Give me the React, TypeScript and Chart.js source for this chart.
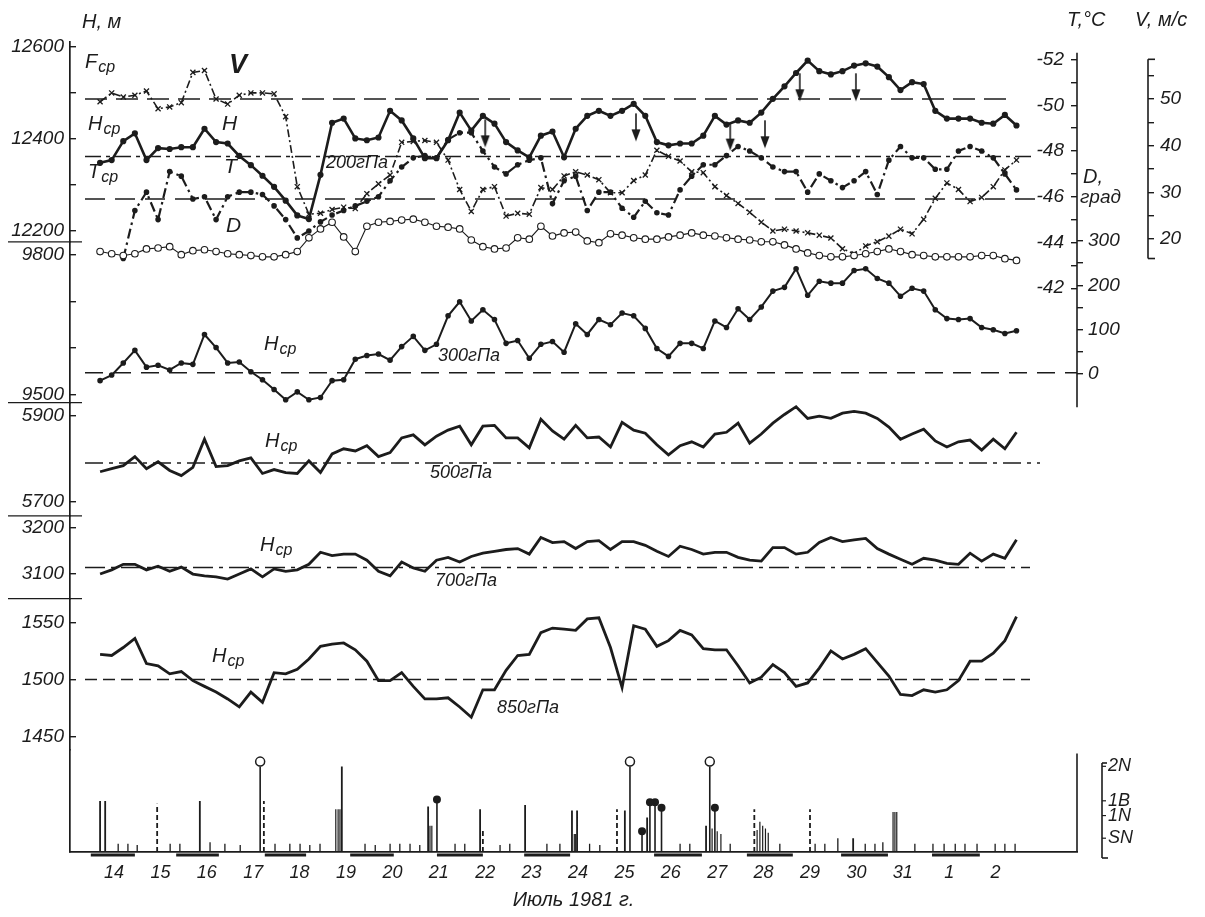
import React, { useEffect, useRef } from "react";
import { Chart, registerables } from "chart.js";

Chart.register(...registerables);

const INK = "#1c1c1c";
const FONT = "'Liberation Sans', 'DejaVu Sans', Arial, sans-serif";

// ---------------- time axis ----------------
const dayValues = [14, 15, 16, 17, 18, 19, 20, 21, 22, 23, 24, 25, 26, 27, 28, 29, 30, 31, 32, 33];
const dayLabels = ["14", "15", "16", "17", "18", "19", "20", "21", "22", "23", "24", "25", "26", "27", "28", "29", "30", "31", "1", "2"];
const firstObs = 13.7; // day of first 6-hourly observation
const obsStep = 0.25;
const times = Array.from({ length: 80 }, (_, k) => firstObs + k * obsStep);

// ---------------- 200 hPa ----------------
const h200 = [
  12348, 12354, 12395, 12412, 12354, 12380, 12378, 12382, 12382, 12422,
  12393, 12390, 12363, 12343, 12320, 12296, 12266, 12234, 12226, 12322,
  12435, 12444, 12401, 12397, 12403, 12461, 12440, 12401, 12358, 12358,
  12397, 12457, 12418, 12450, 12433, 12393, 12375, 12360, 12407, 12416,
  12360, 12422, 12450, 12461, 12450, 12461, 12476, 12450, 12393, 12386,
  12390, 12390, 12407, 12450, 12431, 12440, 12435, 12457, 12487, 12514,
  12543, 12570, 12547, 12540, 12547, 12559, 12564, 12557, 12534, 12506,
  12523, 12519, 12461, 12444, 12444, 12444, 12435, 12433, 12452, 12429,
];
const wind200 = [
  49.4, 51.3, 50.4, 50.8, 51.7, 47.9, 48.3, 49.2, 55.7, 56.1,
  50.0, 48.9, 50.8, 51.3, 51.3, 51.1, 46.2, 31.2, 25.3, 25.5,
  26.3, 26.8, 26.5, 29.7, 31.8, 33.7, 40.7, 40.9, 41.1, 40.7,
  36.9, 30.6, 25.9, 30.6, 31.2, 24.9, 25.5, 25.3, 31.0, 30.6,
  33.5, 34.4, 33.7, 32.7, 29.9, 29.9, 32.5, 33.7, 39.0, 37.7,
  36.7, 34.4, 34.2, 31.2, 29.3, 27.6, 25.7, 23.6, 21.7, 22.1,
  21.7, 21.3, 20.8, 20.2, 17.9, 16.8, 18.5, 19.4, 20.6, 22.1,
  21.1, 24.2, 28.7, 32.0, 30.6, 28.0, 28.9, 31.2, 34.8, 36.9,
];
const temp200 = [
  null, null, -43.3, -45.4, -46.2, -45.0, -47.1, -46.9, -45.9, -46.0,
  -45.0, -46.0, -46.2, -46.2, -46.1, -45.6, -45.0, -44.2, -44.5, -44.9,
  -45.2, -45.4, -45.6, -45.8, -46.0, -46.7, -47.3, -47.7, -47.8, -47.7,
  -48.5, -48.8, -48.8, -48.0, -47.3, -47.0, -47.4, -47.6, -47.7, -45.7,
  -46.7, -46.9, -45.4, -46.2, -46.2, -45.5, -45.1, -45.8, -45.3, -45.2,
  -46.3, -46.9, -47.4, -47.4, -47.8, -48.2, -48.0, -47.7, -47.3, -47.1,
  -47.1, -46.2, -47.0, -46.7, -46.4, -46.7, -47.1, -46.1, -47.6, -48.2,
  -47.7, -47.7, -47.2, -47.2, -48.0, -48.2, -48.0, -47.7, -47.0, -46.3,
];
const dir200 = [
  276, 271, 267, 271, 282, 284, 287, 269, 278, 280,
  276, 271, 269, 267, 264, 264, 269, 276, 307, 327,
  342, 309, 276, 333, 342, 344, 347, 349, 342, 333,
  331, 327, 302, 287, 282, 284, 307, 304, 333, 311,
  318, 320, 300, 296, 316, 313, 307, 304, 304, 309,
  313, 318, 313, 311, 307, 304, 302, 298, 298, 291,
  282, 273, 267, 264, 264, 267, 271, 276, 282, 276,
  269, 267, 264, 264, 264, 264, 267, 267, 260, 256,
];

// ---------------- lower levels ----------------
const h300 = [
  9530, 9542, 9568, 9595, 9559, 9563, 9553, 9568, 9565, 9629,
  9601, 9568, 9570, 9549, 9532, 9511, 9489, 9506, 9489, 9494,
  9530, 9532, 9576, 9584, 9587, 9574, 9603, 9625, 9595, 9608,
  9669, 9699, 9658, 9682, 9661, 9610, 9616, 9578, 9608, 9614,
  9591, 9652, 9629, 9661, 9650, 9675, 9669, 9642, 9599, 9582,
  9610, 9610, 9599, 9658, 9644, 9684, 9661, 9688, 9722, 9730,
  9770, 9713, 9743, 9739, 9739, 9766, 9770, 9749, 9739, 9711,
  9728, 9722, 9682, 9663, 9661, 9663, 9644, 9639, 9631, 9637,
];
const h500 = [
  5770, 5777, 5784, 5805, 5777, 5793, 5773, 5761, 5780, 5845,
  5782, 5784, 5795, 5802, 5766, 5775, 5768, 5766, 5795, 5768,
  5811, 5823, 5818, 5830, 5805, 5814, 5848, 5855, 5832, 5852,
  5866, 5875, 5832, 5875, 5877, 5848, 5848, 5825, 5891, 5864,
  5845, 5877, 5848, 5850, 5827, 5884, 5866, 5859, 5832, 5809,
  5830, 5839, 5827, 5857, 5861, 5882, 5836, 5857, 5882, 5902,
  5920, 5893, 5898, 5893, 5905, 5909, 5905, 5893, 5873, 5845,
  5857, 5868, 5841, 5827, 5839, 5843, 5820, 5845, 5823, 5861,
];
const h700 = [
  3100, 3109, 3121, 3121, 3109, 3117, 3106, 3115, 3100, 3096,
  3094, 3089, 3100, 3111, 3094, 3111, 3106, 3109, 3121, 3147,
  3140, 3143, 3143, 3130, 3106, 3096, 3126, 3113, 3106, 3130,
  3136, 3126, 3138, 3145, 3149, 3153, 3155, 3143, 3179, 3168,
  3170, 3155, 3170, 3172, 3153, 3170, 3170, 3162, 3149, 3138,
  3160, 3153, 3143, 3147, 3147, 3136, 3130, 3128, 3157, 3157,
  3143, 3147, 3168, 3179, 3170, 3174, 3177, 3155, 3143, 3132,
  3121, 3134, 3130, 3123, 3121, 3145, 3128, 3143, 3134, 3174,
];
const h850 = [
  1522, 1521, 1528, 1536, 1514, 1512, 1505, 1507, 1499, 1494,
  1489, 1483, 1476, 1489, 1480, 1506, 1505, 1509, 1518, 1529,
  1531, 1532, 1526, 1516, 1499, 1499, 1506, 1494, 1483, 1483,
  1484, 1476, 1467, 1491, 1491, 1508, 1521, 1522, 1541, 1545,
  1544, 1543, 1553, 1554, 1528, 1493, 1547, 1544, 1529, 1534,
  1543, 1539, 1527, 1526, 1526, 1512, 1497, 1502, 1513, 1506,
  1494, 1497, 1510, 1525, 1518, 1522, 1527, 1515, 1503, 1487,
  1486, 1491, 1489, 1491, 1499, 1516, 1516, 1523, 1534, 1555,
];

// mean values (dashed reference lines)
const meanWind200 = 50;
const meanH200 = 12362;
const meanTemp200 = -45.9;
const meanH300 = 9547;
const meanH500 = 5790;
const meanH700 = 3114;
const meanH850 = 1500;

// arrows on the 200 hPa height curve
const arrowTimes = [22.0, 25.25, 27.28, 28.03, 28.78, 29.99];
const arrowH = [12412, 12425, 12405, 12410, 12512, 12512];

// ---------------- flares ----------------
const flareClassLevels = [1, 2.64, 3.71, 6.21];
const flareClassLabels = ["SN", "1N", "1B", "2N"];
const flareSolidTimes = [13.70, 13.81, 15.85, 18.91, 20.77, 21.89, 22.86, 23.87, 23.98, 25.01, 25.49, 26.76, 29.93];
const flareSolidLevels = [3.7, 3.7, 3.7, 6.2, 3.3, 3.1, 3.4, 3.0, 3.0, 3.0, 2.5, 1.9, 1.0];
const flareHatchTimes = [18.78, 18.83, 18.87, 20.81, 20.85, 23.92, 23.95, 26.89, 27.0, 27.08, 27.86, 27.92, 27.98, 28.04, 28.1, 30.79, 30.83, 30.87];
const flareHatchLevels = [3.1, 3.1, 3.1, 1.9, 1.9, 1.3, 1.3, 1.7, 1.5, 1.3, 1.6, 2.2, 1.9, 1.7, 1.4, 2.9, 2.9, 2.9];
const flareDashTimes = [14.93, 17.23, 21.95, 24.84, 27.8, 29.0];
const flareDashLevels = [3.5, 3.7, 1.7, 3.1, 3.1, 3.1];
const flareOpenTimes = [17.15, 25.12, 26.84];
const flareOpenLevels = [6.2, 6.2, 6.2];
const flareDotTimes = [20.96, 25.38, 25.55, 25.66, 25.8, 26.95];
const flareDotLevels = [3.7, 1.4, 3.5, 3.5, 3.1, 3.1];
const subflareTimes = [14.09, 14.30, 14.50, 15.21, 15.42, 16.07, 16.39, 16.72, 17.47, 17.79, 18.01, 18.22, 18.44, 19.41, 19.63, 19.95, 20.16, 20.38, 20.59, 21.35, 21.56, 22.32, 22.53, 23.33, 23.61, 24.25, 24.47, 26.20, 26.41, 27.28, 28.35, 29.11, 29.32, 29.60, 30.19, 30.40, 30.57, 31.26, 31.65, 31.89, 32.13, 32.34, 32.60, 32.99, 33.20, 33.42];
const subflareLevels = [0.6, 0.6, 0.5, 0.6, 0.6, 0.7, 0.6, 0.5, 0.6, 0.6, 0.6, 0.5, 0.6, 0.6, 0.5, 0.6, 0.6, 0.6, 0.5, 0.6, 0.6, 0.5, 0.6, 0.6, 0.6, 0.6, 0.5, 0.6, 0.6, 0.6, 0.6, 0.6, 0.6, 1.0, 0.6, 0.6, 0.7, 0.6, 0.6, 0.6, 0.6, 0.6, 0.6, 0.6, 0.6, 0.6];
const patrolStart = [13.50, 15.34, 17.25, 19.09, 20.96, 22.84, 25.64, 27.64, 29.67, 31.63];
const patrolEnd = [14.45, 16.26, 18.14, 20.03, 21.95, 23.83, 26.67, 28.63, 30.68, 32.66];

// ---------------- layout (pixels) ----------------
const AREA = { top: 30, bottom: 852, left: 70, right: 1077 };
const LEFT_BOUNDS = [30, 233, 396, 511, 595, 748, 852];
const DAY_PX = 46.4;
const DAY14_PX = 114;
const tAt = (px: number) => 14 + (px - DAY14_PX) / DAY_PX;

function fitRange(v1: number, p1: number, v2: number, p2: number, top: number, bottom: number) {
  const k = (v2 - v1) / (p2 - p1);
  const atTop = v1 + (top - p1) * k;
  const atBottom = v1 + (bottom - p1) * k;
  return atTop > atBottom
    ? { min: atBottom, max: atTop, reverse: false }
    : { min: atTop, max: atBottom, reverse: true };
}

const tickFont = { family: FONT, size: 19, style: "italic" as const };

function leftScale(idx: number, range: any, tickVals: number[], labelVals: number[]) {
  return {
    type: "linear",
    position: "left",
    stack: "left",
    stackWeight: LEFT_BOUNDS[idx + 1] - LEFT_BOUNDS[idx],
    weight: 100 - idx * 10,
    ...range,
    afterFit: (s: any) => { s.width = AREA.left; },
    afterBuildTicks: (s: any) => { s.ticks = tickVals.map((v) => ({ value: v })); },
    ticks: {
      autoSkip: false,
      padding: 12,
      color: INK,
      font: tickFont,
      display: tickVals.length > 0,
      callback: (v: number) => (labelVals.includes(v) ? String(v) : ""),
    },
    grid: { drawOnChartArea: false, drawTicks: tickVals.length > 0, tickLength: -6, color: INK, lineWidth: 1.4 },
    border: { display: true, color: INK, width: 1.7 },
  };
}

function rightScale(weight: number, range: any, width: number, tickVals: number[], labelFn: (v: number, i: number) => string, extra: any = {}) {
  return {
    type: "linear",
    position: "right",
    weight,
    ...range,
    afterFit: (s: any) => { s.width = width; },
    afterBuildTicks: (s: any) => { s.ticks = tickVals.map((v) => ({ value: v })); },
    ticks: { autoSkip: false, padding: 6, color: INK, font: tickFont, callback: labelFn, ...(extra.ticks || {}) },
    grid: { drawOnChartArea: false, drawTicks: true, tickLength: 6, color: INK, lineWidth: 1.4, ...(extra.grid || {}) },
    border: { display: false },
    ...(extra.scale || {}),
  };
}

const pts = (vals: (number | null)[]) => vals.map((v, k) => ({ x: times[k], y: v }));
const stems = (ts: number[], ls: number[]) => {
  const out: any[] = [];
  ts.forEach((t, i) => { out.push({ x: t, y: 0 }, { x: t, y: ls[i] }, { x: t, y: null }); });
  return out;
};

function makeArrow() {
  const c = document.createElement("canvas");
  c.width = 12; c.height = 30;
  const g = c.getContext("2d")!;
  g.strokeStyle = INK; g.fillStyle = INK; g.lineWidth = 1.6;
  g.beginPath(); g.moveTo(6, 1); g.lineTo(6, 21); g.stroke();
  g.beginPath(); g.moveTo(1.5, 17); g.lineTo(6, 29); g.lineTo(10.5, 17); g.closePath(); g.fill();
  return c;
}

type Note = { text: string; x: number; y: number; size?: number; sub?: string; bold?: boolean };
const notes: Note[] = [
  { text: "H, м", x: 82, y: 22, size: 20 },
  { text: "F", sub: "ср", x: 85, y: 62 },
  { text: "H", sub: "ср", x: 88, y: 124 },
  { text: "T", sub: "ср", x: 88, y: 172 },
  { text: "V", x: 229, y: 66, size: 27, bold: true },
  { text: "H", x: 222, y: 124, size: 21 },
  { text: "T", x: 224, y: 167, size: 21 },
  { text: "D", x: 226, y: 226, size: 21 },
  { text: "200гПа", x: 326, y: 163, size: 18 },
  { text: "H", sub: "ср", x: 264, y: 344 },
  { text: "300гПа", x: 438, y: 356, size: 18 },
  { text: "H", sub: "ср", x: 265, y: 441 },
  { text: "500гПа", x: 430, y: 473, size: 18 },
  { text: "H", sub: "ср", x: 260, y: 545 },
  { text: "700гПа", x: 435, y: 581, size: 18 },
  { text: "H", sub: "ср", x: 212, y: 656 },
  { text: "850гПа", x: 497, y: 708, size: 18 },
  { text: "T,°C", x: 1067, y: 20, size: 20 },
  { text: "V, м/с", x: 1135, y: 20, size: 20 },
  { text: "D,", x: 1083, y: 177, size: 20 },
  { text: "град", x: 1080, y: 198, size: 19 },
];

const decorPlugin = {
  id: "decor",
  afterDraw(chart: any) {
    const { ctx, chartArea: ca, scales: s } = chart;
    ctx.save();
    ctx.strokeStyle = INK;
    ctx.fillStyle = INK;
    const seg = (x1: number, y1: number, x2: number, y2: number, w = 1.6) => {
      ctx.lineWidth = w; ctx.beginPath(); ctx.moveTo(x1, y1); ctx.lineTo(x2, y2); ctx.stroke();
    };
    // common T / D axis line
    seg(ca.right, s.yT.getPixelForValue(-52.3), ca.right, s.yD.getPixelForValue(-75));
    // right edge of the flare panel
    seg(ca.right, s.yFlare.top + 4, ca.right, ca.bottom);
    // V bracket
    const xv = s.yV.left;
    const vt = s.yV.getPixelForValue(58.5), vb = s.yV.getPixelForValue(15.8);
    seg(xv, vt, xv, vb); seg(xv, vt, xv + 7, vt); seg(xv, vb, xv + 7, vb);
    // flare class bracket
    const xf = ca.right + 25;
    const ft = s.yFlareR.getPixelForValue(6.45), fb = ca.bottom + 6;
    seg(xf, ft, xf, fb); seg(xf, ft, xf + 5, ft); seg(xf, fb, xf + 6, fb);
    flareClassLevels.forEach((l) => { const y = s.yFlareR.getPixelForValue(l); seg(xf, y, xf + 4, y, 1.2); });
    // separators between left-axis panels
    [s.y200.bottom, s.y300.bottom, s.y500.bottom, s.y700.bottom].forEach((y: number) => seg(8, y, ca.left + 12, y, 1.3));
    // texts
    ctx.textBaseline = "middle";
    ctx.textAlign = "left";
    for (const n of notes) {
      const size = n.size || 20;
      ctx.font = `${n.bold ? "bold " : ""}italic ${size}px ${FONT}`;
      ctx.fillText(n.text, n.x, n.y);
      if (n.sub) {
        const w = ctx.measureText(n.text).width;
        ctx.font = `italic ${Math.round(size * 0.78)}px ${FONT}`;
        ctx.fillText(n.sub, n.x + w + 1, n.y + size * 0.28);
      }
    }
    ctx.restore();
  },
};

export default function App() {
  const ref = useRef<HTMLCanvasElement>(null);

  useEffect(() => {
    const arrowImg = makeArrow();
    const xr = { min: tAt(AREA.left), max: tAt(AREA.right) };
    const tStart = tAt(85);

    const line = (label: string, yAxisID: string, data: any[], o: any = {}) => ({
      type: "line", label, yAxisID, xAxisID: "x", data,
      borderColor: INK, backgroundColor: INK, borderWidth: 2, tension: 0,
      pointRadius: 0, pointBackgroundColor: INK, pointBorderColor: INK,
      spanGaps: false, clip: false, ...o,
    });
    const mean = (label: string, yAxisID: string, v: number, tEnd: number, dash: number[]) =>
      line(label, yAxisID, [{ x: tStart, y: v }, { x: tEnd, y: v }], { borderWidth: 1.5, borderDash: dash });

    const datasets: any[] = [
      mean("V mean", "yV", meanWind200, tAt(1015), [22, 9]),
      mean("H200 mean", "y200", meanH200, tAt(1035), [16, 5, 4, 5]),
      mean("T mean", "yT", meanTemp200, tAt(1035), [20, 10]),
      mean("H300 mean", "y300", meanH300, tAt(AREA.right), [18, 10]),
      mean("H500 mean", "y500", meanH500, tAt(1040), [18, 6, 4, 6]),
      mean("H700 mean", "y700", meanH700, tAt(1030), [20, 6, 4, 6]),
      mean("H850 mean", "y850", meanH850, tAt(1030), [12, 6]),
      line("D", "yD", pts(dir200), {
        borderWidth: 1.1, pointRadius: 3.3, pointBackgroundColor: "#ffffff", pointBorderWidth: 1.1,
      }),
      line("V", "yV", pts(wind200), {
        borderWidth: 1.6, borderDash: [8, 3, 2, 3], pointStyle: "crossRot", pointRadius: 3.6, pointBorderWidth: 1.3,
      }),
      line("T", "yT", pts(temp200), {
        borderWidth: 2.2, borderDash: [10, 4, 2.5, 4], pointRadius: 1.7,
      }),
      line("H200", "y200", pts(h200), { borderWidth: 2.6, pointRadius: 1.8 }),
      line("arrows", "y200", arrowTimes.map((t, i) => ({ x: t, y: arrowH[i] })), {
        showLine: false, pointStyle: arrowImg, pointRadius: 6,
      }),
      line("H300", "y300", pts(h300), { borderWidth: 2, pointRadius: 1.8 }),
      line("H500", "y500", pts(h500), { borderWidth: 2.8 }),
      line("H700", "y700", pts(h700), { borderWidth: 2.8 }),
      line("H850", "y850", pts(h850), { borderWidth: 2.8 }),
      line("flares", "yFlare", stems(flareSolidTimes, flareSolidLevels), { borderWidth: 1.8 }),
      line("flares hatched", "yFlare", stems(flareHatchTimes, flareHatchLevels), { borderWidth: 1.2 }),
      line("flares dashed", "yFlare", stems(flareDashTimes, flareDashLevels), { borderWidth: 1.8, borderDash: [5, 3] }),
      line("flares radio", "yFlare", stems(flareOpenTimes, flareOpenLevels), { borderWidth: 1.6 }),
      line("flares radio top", "yFlare", flareOpenTimes.map((t, i) => ({ x: t, y: flareOpenLevels[i] + 0.35 })), {
        showLine: false, pointRadius: 4.5, pointBackgroundColor: "#ffffff", pointBorderWidth: 1.5,
      }),
      line("flares dot", "yFlare", stems(flareDotTimes, flareDotLevels), { borderWidth: 1.6 }),
      line("flares dot top", "yFlare", flareDotTimes.map((t, i) => ({ x: t, y: flareDotLevels[i] + 0.1 })), {
        showLine: false, pointRadius: 3,
      }),
      line("subflares", "yFlare", stems(subflareTimes, subflareLevels), { borderWidth: 1.3 }),
      line("patrol", "yFlare", patrolStart.flatMap((s, i) => [{ x: s, y: -0.22 }, { x: patrolEnd[i], y: -0.22 }, { x: patrolEnd[i], y: null }]), {
        borderWidth: 3,
      }),
    ];

    const scales: any = {
      x: {
        type: "linear", position: "bottom", min: xr.min, max: xr.max,
        afterFit: (s: any) => { s.height = 917 - AREA.bottom; },
        afterBuildTicks: (s: any) => { s.ticks = dayValues.map((v) => ({ value: v })); },
        ticks: {
          autoSkip: false, maxRotation: 0, padding: 10, color: INK,
          font: { family: FONT, size: 18, style: "italic" },
          callback: (_v: number, i: number) => dayLabels[i],
        },
        grid: { drawOnChartArea: false, drawTicks: false },
        border: { display: true, color: INK, width: 1.7 },
        title: {
          display: true, text: "Июль 1981 г.", color: INK,
          font: { family: FONT, size: 20, style: "italic" }, padding: { top: 0, bottom: 5 },
        },
      },
      y200: leftScale(0, fitRange(12600, 35, 12200, 222, LEFT_BOUNDS[0], LEFT_BOUNDS[1]), [12600, 12500, 12400, 12300, 12200], [12600, 12400, 12200]),
      y300: leftScale(1, fitRange(9800, 246, 9500, 388, LEFT_BOUNDS[1], LEFT_BOUNDS[2]), [9800, 9700, 9600, 9500], [9800, 9500]),
      y500: leftScale(2, fitRange(5900, 409, 5700, 497, LEFT_BOUNDS[2], LEFT_BOUNDS[3]), [5900, 5700], [5900, 5700]),
      y700: leftScale(3, fitRange(3200, 523, 3100, 570, LEFT_BOUNDS[3], LEFT_BOUNDS[4]), [3200, 3100], [3200, 3100]),
      y850: leftScale(4, fitRange(1550, 619, 1450, 735, LEFT_BOUNDS[4], LEFT_BOUNDS[5]), [1550, 1500, 1450], [1550, 1500, 1450]),
      yFlare: leftScale(5, fitRange(0, 852, 1, 838, LEFT_BOUNDS[5], LEFT_BOUNDS[6]), [], []),
      yT: rightScale(1, fitRange(-52, 48, -42, 280, AREA.top, AREA.bottom), 0,
        [-52, -51, -50, -49, -48, -47, -46, -45, -44, -43, -42],
        (v: number) => (v % 2 === 0 ? String(v) : ""),
        { ticks: { mirror: true, padding: -13 }, grid: { tickLength: -6 } }),
      yD: rightScale(2, fitRange(300, 232, 0, 367, AREA.top, LEFT_BOUNDS[5]), 71,
        [300, 250, 200, 150, 100, 50, 0],
        (v: number) => (v % 100 === 0 ? String(v) : ""),
        { ticks: { padding: 5 }, scale: { stack: "rc1", stackWeight: LEFT_BOUNDS[5] - AREA.top } }),
      yFlareR: rightScale(3, fitRange(0, 852, 1, 838, LEFT_BOUNDS[5], LEFT_BOUNDS[6]), 71,
        flareClassLevels,
        (_v: number, i: number) => flareClassLabels[i],
        { ticks: { padding: 31, font: { family: FONT, size: 18, style: "italic" } }, grid: { drawTicks: false }, scale: { stack: "rc1", stackWeight: LEFT_BOUNDS[6] - LEFT_BOUNDS[5] } }),
      yV: rightScale(4, fitRange(50, 88, 20, 230, AREA.top, AREA.bottom), 1205 - AREA.right - 71,
        [55, 50, 45, 40, 35, 30, 25, 20],
        (v: number) => (v % 10 === 0 ? String(v) : ""),
        { ticks: { padding: 6 } }),
    };

    Chart.defaults.font.family = FONT;
    const chart = new Chart(ref.current!, {
      type: "line",
      data: { datasets },
      options: {
        responsive: false,
        animation: false,
        devicePixelRatio: 1,
        events: [],
        layout: { padding: { top: AREA.top, left: 0, right: 0, bottom: 0 } },
        plugins: { legend: { display: false }, tooltip: { enabled: false } },
        scales,
      },
      plugins: [decorPlugin],
    } as any);
    return () => chart.destroy();
  }, []);

  return (
    <div style={{ position: "fixed", left: 0, top: 0, width: 1205, height: 917, background: "#ffffff" }}>
      <canvas ref={ref} width={1205} height={917} style={{ display: "block", width: 1205, height: 917 }} />
    </div>
  );
}
